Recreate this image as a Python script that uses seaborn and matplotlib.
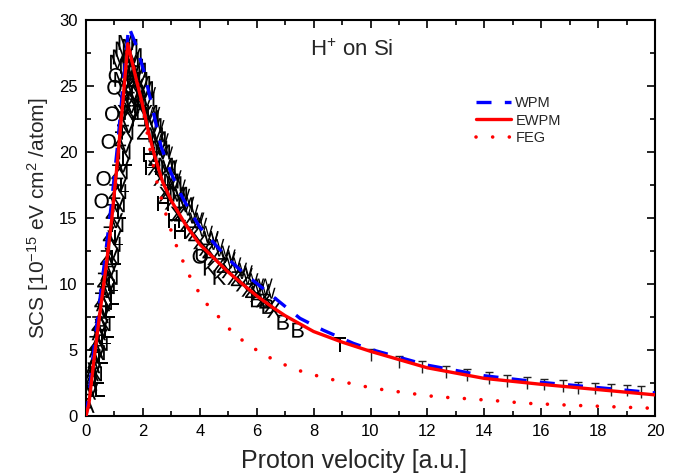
import matplotlib
matplotlib.use("Agg")
import matplotlib.pyplot as plt
import seaborn as sns
import pandas as pd
from matplotlib.ticker import MultipleLocator

# ---------------- data ----------------
wpm_x = [0, 0.1, 0.3, 0.5, 0.7, 0.9, 1.1, 1.3, 1.5, 1.76, 2.05, 2.34, 2.64, 2.99, 3.4, 3.75,
         4.0, 4.5, 5.0, 5.5, 6.0, 7.0, 7.52, 8.34, 9.4, 10, 12, 14, 16, 18, 20]
wpm_y = [0, 1.5, 5.5, 9.0, 12.5, 16.2, 20.3, 25.0, 29.5, 28.1, 26.0, 23.3, 20.4, 18.4, 16.5, 15.2,
         14.3, 13.1, 11.9, 10.9, 10.05, 8.3, 7.4, 6.5, 5.5, 5.05, 3.85, 3.05, 2.55, 2.15, 1.75]

ewpm_x = [0, 0.1, 0.3, 0.5, 0.7, 0.9, 1.1, 1.3, 1.47, 1.6, 1.8, 1.93, 2.2, 2.4, 2.7, 3.0, 3.5,
          4.0, 5.0, 6.0, 6.58, 7.0, 8.0, 9.0, 10, 12, 14, 16, 18, 20]
ewpm_y = [0, 0.9, 4.6, 8.0, 11.2, 14.8, 19.2, 23.9, 28.2, 27.0, 25.2, 24.1, 21.5, 19.8, 17.7, 16.3, 14.5,
          13.0, 10.9, 9.1, 8.2, 7.6, 6.4, 5.6, 4.9, 3.65, 2.85, 2.4, 2.0, 1.6]

feg_x = [0, 0.1, 0.3, 0.5, 0.7, 0.9, 1.1, 1.3, 1.47, 1.76, 2.05, 2.23, 2.46, 2.75, 3.1, 3.57, 3.84,
         4.24, 4.71, 5.18, 5.7, 6.29, 6.82, 7.35, 7.93, 8.46, 10.1, 11.2, 12.3, 13.4, 14.5, 15.5,
         17.0, 18.5, 20]
feg_y = [0, 0.9, 4.6, 8.0, 11.2, 14.8, 19.2, 23.9, 28.2, 25.7, 22.8, 20.4, 18.0, 15.7, 13.3, 10.9, 9.8,
         8.5, 7.4, 6.26, 5.4, 4.6, 4.04, 3.53, 3.16, 2.85, 2.1, 1.77, 1.46, 1.31, 1.14, 0.96,
         0.82, 0.7, 0.58]

# experimental data sets drawn with letter symbols
exp_A_x = [0.05, 0.1, 0.15, 0.2, 0.25, 0.3, 0.35, 0.4, 0.45, 0.5, 0.55, 0.6, 0.65, 0.7, 0.75, 0.8]
exp_A_y = [0.8, 1.8, 2.5, 3.2, 3.8, 4.2, 5.0, 5.5, 6.3, 7.0, 7.6, 8.5, 9.2, 10.0, 10.8, 11.5]
exp_V_x = [0.2, 0.3, 0.4, 0.5, 0.55, 0.65, 0.75, 0.85, 0.9, 1.0, 1.05, 1.1, 1.2, 1.3, 1.4, 1.5, 1.6, 1.7]
exp_V_y = [2.0, 3.5, 4.6, 6.0, 6.8, 8.0, 9.5, 11.0, 12.2, 13.5, 14.8, 16.0, 17.5, 19.0, 20.5, 22.0, 23.5, 24.5]
exp_N_x = [0.35, 0.45, 0.55, 0.65, 0.7, 0.8, 0.9, 0.95, 1.0, 1.1, 1.15, 1.2, 1.25, 1.35, 1.45,
           1.55, 1.65, 1.8, 1.9, 2.0]
exp_N_y = [3.2, 4.8, 5.5, 7.0, 8.6, 9.8, 10.5, 12.0, 13.0, 14.5, 16.0, 17.0, 18.5, 20.0, 21.5,
           23.0, 24.0, 24.5, 23.5, 23.0]
exp_L_x = [0.45, 0.6, 0.7, 0.85, 0.95, 1.05, 1.15, 1.25, 1.35, 1.45, 0.5, 0.8, 1.0]
exp_L_y = [3.0, 4.5, 6.0, 8.0, 10.0, 12.0, 13.5, 15.5, 17.5, 19.5, 2.0, 6.5, 9.0]
exp_Z_x = [0.3, 0.4, 0.5, 0.6, 0.7, 0.8, 0.9, 1.0, 1.1, 1.2, 1.3, 1.4, 1.5, 1.6, 1.7, 1.8, 2.0,
           2.4, 2.8, 3.3, 3.8, 4.3, 4.8, 5.3, 5.8, 6.3]
exp_Z_y = [5.5, 7.0, 8.8, 10.3, 12.0, 13.8, 15.5, 17.0, 18.5, 21.0, 22.5, 24.0, 25.0, 26.0, 25.5, 23.0, 21.5,
           19.5, 17.0, 15.3, 13.8, 12.5, 11.4, 10.4, 9.5, 8.7]
exp_M_x = [1.1, 1.2, 1.3, 1.4, 1.55, 1.65, 1.7, 1.85, 2.0, 2.15, 2.3, 2.45, 2.6, 2.8, 3.0, 3.2,
           1.25, 1.45, 1.6, 1.75, 1.9, 2.1, 2.25, 2.4, 2.55, 2.7, 2.9, 3.1, 3.3, 3.5]
exp_M_y = [26.8, 27.2, 27.8, 28.3, 28.0, 26.0, 27.3, 26.2, 25.2, 24.0, 22.6, 21.3, 20.3, 19.0, 17.8, 16.8,
           25.5, 26.5, 27.0, 26.5, 25.5, 24.8, 23.0, 22.0, 21.0, 20.0, 18.8, 17.6, 16.8, 16.0]
exp_Y_x = [1.2, 1.3, 1.4, 1.5, 1.6, 1.7, 1.8, 1.9, 2.0, 2.1, 1.35, 1.55, 1.45, 1.65, 1.75]
exp_Y_y = [23.0, 24.0, 25.0, 24.5, 25.0, 24.0, 25.0, 24.5, 24.0, 23.0, 23.0, 26.0, 23.5, 22.5, 23.5]
exp_O_x = [0.55, 0.62, 0.8, 0.92, 1.0, 1.05, 4.0]
exp_O_y = [16.3, 18.0, 20.8, 22.9, 24.9, 25.8, 12.1]
exp_H_x = [2.2, 2.3, 2.7, 3.1, 3.3]
exp_H_y = [19.8, 18.8, 16.1, 14.8, 14.0]
exp_K_x = [4.36, 4.7]
exp_K_y = [11.2, 10.5]
exp_U_x = [4.07]
exp_U_y = [12.2]
exp_W_x = [2.2, 2.5, 2.8, 3.1, 3.4, 3.7, 4.0, 4.4, 4.8, 5.2, 5.6, 6.0, 6.4,
           2.35, 2.65, 2.95, 3.25, 3.55, 3.85, 4.2, 4.6, 5.0, 5.4, 5.8, 6.2,
           3.9, 4.4, 5.0, 5.6, 6.3]
exp_W_y = [24.5, 22.0, 20.0, 18.2, 16.8, 15.6, 14.6, 13.5, 12.5, 11.6, 10.8, 10.0, 9.3,
           23.0, 21.0, 19.0, 17.5, 16.2, 15.0, 14.0, 13.0, 12.0, 11.2, 10.4, 9.6,
           15.0, 13.6, 12.2, 11.0, 10.0]
exp_X_x = [2.6, 3.0, 3.5, 4.0, 4.5, 5.0, 5.5, 6.0, 6.5, 2.4, 2.8, 3.2, 3.7, 4.2, 4.7, 5.2, 5.7, 6.2, 6.6]
exp_X_y = [18.0, 16.2, 14.5, 13.2, 12.0, 11.0, 10.0, 9.2, 8.4, 18.8, 16.8, 15.3, 14.0, 12.7, 11.5, 10.5,
           9.6, 8.8, 8.0]
exp_B_x = [6.0, 6.4, 6.93, 7.45]
exp_B_y = [8.8, 8.3, 7.1, 6.5]
exp_T_x = [8.93]
exp_T_y = [5.4]

# data with error bars at high velocity
err_x = [10.0, 11.0, 11.8, 12.65, 13.4, 14.15, 14.8, 15.5, 16.1, 16.75, 17.3, 17.9, 18.45, 19.0, 19.5]
err_y = [4.62, 4.08, 3.69, 3.36, 3.10, 2.85, 2.66, 2.51, 2.38, 2.26, 2.13, 2.07, 1.98, 1.92, 1.83]
err_e = [0.43, 0.45, 0.45, 0.45, 0.43, 0.45, 0.45, 0.43, 0.43, 0.45, 0.45, 0.43, 0.45, 0.43, 0.45]

x_ticks = [0, 2, 4, 6, 8, 10, 12, 14, 16, 18, 20]
y_ticks = [0, 5, 10, 15, 20, 25, 30]

# ---------------- figure ----------------
sns.set_theme(style="ticks")
plt.rcParams["font.family"] = ["Liberation Sans", "DejaVu Sans"]
plt.rcParams["mathtext.fontset"] = "custom"
plt.rcParams["mathtext.rm"] = "Liberation Sans"
plt.rcParams["mathtext.it"] = "Liberation Sans:italic"

fig = plt.figure(figsize=(6.8, 4.75), dpi=100)
ax = fig.add_axes([86 / 680, 1 - 416 / 475, (655 - 86) / 680, (416 - 20) / 475])

sets = {
    "A": (exp_A_x, exp_A_y), "V": (exp_V_x, exp_V_y), "N": (exp_N_x, exp_N_y),
    "L": (exp_L_x, exp_L_y),
    "Z": (exp_Z_x, exp_Z_y), "M": (exp_M_x, exp_M_y), "Y": (exp_Y_x, exp_Y_y),
    "O": (exp_O_x, exp_O_y), "H": (exp_H_x, exp_H_y), "K": (exp_K_x, exp_K_y),
    "U": (exp_U_x, exp_U_y), "W": (exp_W_x, exp_W_y), "X": (exp_X_x, exp_X_y),
    "B": (exp_B_x, exp_B_y), "T": (exp_T_x, exp_T_y),
}
rows = []
for k, (xs, ys) in sets.items():
    for xv, yv in zip(xs, ys):
        rows.append({"v": xv, "s": yv, "set": k})
exp_df = pd.DataFrame(rows)
markers = {k: r"$\mathrm{%s}$" % k for k in sets}
sns.scatterplot(data=exp_df, x="v", y="s", style="set", markers=markers, color="black",
                s=115, edgecolor="none", linewidth=0, legend=False, ax=ax, zorder=2)

# error-bar data
err_lo = [y - e for y, e in zip(err_y, err_e)]
err_hi = [y + e for y, e in zip(err_y, err_e)]
ax.vlines(err_x, err_lo, err_hi, color="#222222", lw=1.0, zorder=2)
ax.plot(err_x, err_hi, ls="none", marker="_", ms=6, mew=1.0, color="#222222", zorder=2)

# model curves
curves = pd.concat([
    pd.DataFrame({"v": wpm_x, "s": wpm_y, "model": "WPM"}),
    pd.DataFrame({"v": ewpm_x, "s": ewpm_y, "model": "EWPM"}),
    pd.DataFrame({"v": feg_x, "s": feg_y, "model": "FEG"}),
])
sns.lineplot(data=curves[curves.model == "FEG"], x="v", y="s", color="red", lw=2.6,
             linestyle=(0, (0.01, 4.6)), dash_capstyle="round", sort=False,
             estimator=None, ax=ax, label="FEG", zorder=3)
sns.lineplot(data=curves[curves.model == "WPM"], x="v", y="s", color="blue", lw=2.4,
             linestyle=(0, (4.5, 4.0)), sort=False, estimator=None, ax=ax, label="WPM", zorder=4)
sns.lineplot(data=curves[curves.model == "EWPM"], x="v", y="s", color="red", lw=2.4,
             sort=False, estimator=None, ax=ax, label="EWPM", zorder=5)

ax.set_xlim(0, 20)
ax.set_ylim(0, 30)
ax.set_xticks(x_ticks)
ax.set_yticks(y_ticks)
ax.xaxis.set_minor_locator(MultipleLocator(1))
ax.yaxis.set_minor_locator(MultipleLocator(2.5))
ax.tick_params(which="both", direction="in", top=True, right=True, width=1.2, colors="black")
ax.tick_params(which="major", length=6, labelsize=12, pad=6)
ax.tick_params(which="minor", length=3.5)
for sp in ax.spines.values():
    sp.set_visible(True)
    sp.set_linewidth(1.5)
    sp.set_color("black")

ax.set_xlabel("Proton velocity [a.u.]", fontsize=18)
ax.xaxis.set_label_coords(0.471, -0.083)
ax.set_ylabel(r"SCS [10$^{-15}$ eV cm$^{2}$ /atom]", fontsize=15, labelpad=6)

ax.text(0.394, 0.924, r"H$^{+}$ on Si", transform=ax.transAxes, fontsize=16,
        ha="left", va="center")

handles, labels = ax.get_legend_handles_labels()
order = [labels.index(n) for n in ["WPM", "EWPM", "FEG"]]
ax.legend([handles[i] for i in order], [labels[i] for i in order],
          loc="upper left", bbox_to_anchor=(0.675, 0.822), frameon=False, fontsize=10.5,
          handlelength=2.4, handletextpad=0.3, labelspacing=0.22, borderaxespad=0)

fig.savefig("out.png", dpi=100)
